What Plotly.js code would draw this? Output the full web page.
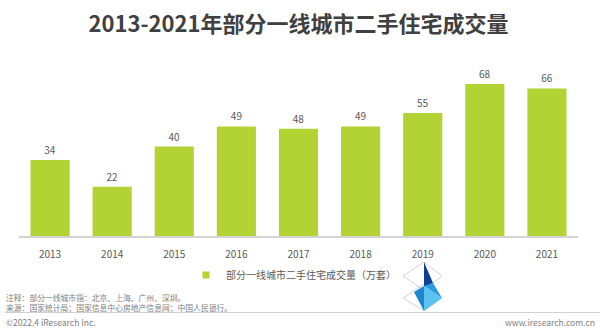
<!DOCTYPE html>
<html><head><meta charset="utf-8">
<script src="https://cdn.plot.ly/plotly-3.0.1.min.js"></script>
<style>html,body{margin:0;padding:0;background:#fff}#chart{width:600px;height:333px}</style>
</head><body><div id="chart"></div>
<script>
const years = ['2013','2014','2015','2016','2017','2018','2019','2020','2021'];
const volumes = [34, 22, 40, 49, 48, 49, 55, 68, 66];
const seriesName = '部分一线城市二手住宅成交量（万套）';
const titleText = '2013-2021年部分一线城市二手住宅成交量';
const noteText = '注释：部分一线城市指：北京、上海、广州、深圳。';
const sourceText = '来源：国家统计局；国家信息中心房地产信息网；中国人民银行。';
const copyText = '©2022.4 iResearch Inc.';
const siteText = 'www.iresearch.com.cn';

const W = 600, H = 333;
const M = {l: 19, r: 22, t: 60, b: 97};
const PW = W - M.l - M.r, PH = H - M.t - M.b;
const px = x => (x - M.l) / PW;
const py = y => (H - M.b - y) / PH;
const green = '#b3d234';
const font = '"Noto Sans CJK SC", "Open Sans", sans-serif';

function poly(pts, fill, line) {
  const d = 'M' + pts.map(p => px(p[0]).toFixed(5) + ',' + py(p[1]).toFixed(5)).join(' L') + ' Z';
  return {type: 'path', xref: 'paper', yref: 'paper', path: d,
    fillcolor: fill || 'rgba(0,0,0,0)', line: line || {width: 0}, layer: 'above'};
}
const grayLine = {color: '#c8c8c8', width: 0.8};
const shapes = [
  {type: 'line', xref: 'paper', yref: 'paper', x0: px(5), x1: px(600), y0: py(312.5), y1: py(312.5),
   line: {color: '#d0d0d0', width: 1}},
  poly([[424,262],[442,276],[424,290],[403,276]], null, grayLine),
  poly([[424,284],[442,298],[424,311],[403,298]], null, grayLine),
  poly([[424,262],[433,283],[424,287]], '#123f93'),
  poly([[414,292],[424,286],[424,311]], '#1c86d0'),
  poly([[424,286],[433,283],[442,298]], '#2a9be0'),
  poly([[424,286],[442,298],[424,311]], '#5cc4f1')
];

const ann = (text, x, y, size, color, xanchor) => ({
  text: text, xref: 'paper', yref: 'paper', x: px(x), y: py(y), xanchor: xanchor || 'left', yanchor: 'middle',
  showarrow: false, font: {family: font, size: size, color: color}
});

const data = [
  {type: 'bar', x: years, y: volumes, marker: {color: green}, showlegend: false,
   text: volumes.map(String), textposition: 'outside', cliponaxis: false,
   textfont: {family: font, size: 10, color: '#595959'}, hoverinfo: 'x+y', width: 0.63},
  {type: 'scatter', mode: 'markers', x: [null], y: [null], name: seriesName,
   marker: {symbol: 'square', size: 7, color: green}, showlegend: true}
];

const layout = {
  width: W, height: H, margin: M,
  paper_bgcolor: '#fff', plot_bgcolor: '#fff',
  title: {text: '<b>' + titleText + '</b>', x: 0.5, xref: 'paper', y: 1 - 24 / H, yanchor: 'middle',
          font: {family: font, size: 22, color: '#404040'}},
  xaxis: {type: 'category', showgrid: false, zeroline: false, showline: true, linecolor: '#d4d4d4', linewidth: 1.5,
          ticks: '', ticklabelstandoff: 8, tickfont: {family: font, size: 10, color: '#595959'}},
  yaxis: {range: [0, 78.7], visible: false, showgrid: false, zeroline: false},
  showlegend: true,
  legend: {orientation: 'h', x: px(186), y: py(275), xanchor: 'left', yanchor: 'middle',
           font: {family: font, size: 10, color: '#595959'}, bgcolor: 'rgba(0,0,0,0)'},
  annotations: [
    ann(noteText, 4, 297, 7.8, '#808080'),
    ann(sourceText, 4, 307, 7.8, '#808080'),
    ann(copyText, 4, 322, 8.5, '#808080'),
    ann(siteText, 597, 322, 8.5, '#808080', 'right')
  ],
  shapes: shapes
};
Plotly.newPlot('chart', data, layout, {displayModeBar: false, staticPlot: true});
</script></body></html>
